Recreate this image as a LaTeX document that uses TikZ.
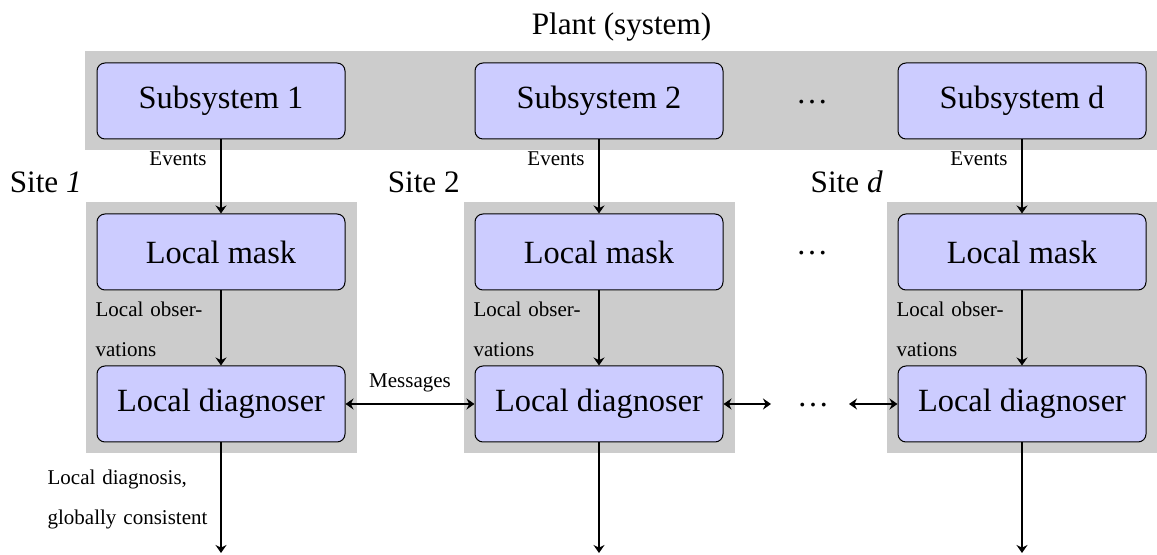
\documentclass[tikz,border=0pt]{standalone}
\usepackage{fontspec}
\setmainfont{Liberation Serif}
\usetikzlibrary{arrows.meta,backgrounds,fit}
\definecolor{panelgray}{RGB}{204,204,204}
\definecolor{boxblue}{RGB}{204,204,255}
\begin{document}
\begin{tikzpicture}[x=0.5pt,y=-0.5pt,
  tip/.tip={Stealth[length=4pt,width=5.5pt,inset=1.3pt]},
  unit/.style={draw=black, line width=0.5pt, fill=boxblue, rounded corners=4pt,
    minimum width=124pt, minimum height=38pt, inner sep=0pt,
    font=\fontsize{16.2}{19}\selectfont},
  panel/.style={fill=panelgray, inner xsep=5.5pt, inner ysep=5.5pt},
  flow/.style={line width=0.9pt, -tip},
  twoway/.style={line width=0.9pt, tip-tip},
  tag/.style={inner sep=0pt, font=\fontsize{10.5}{20}\selectfont},
  title/.style={inner sep=0pt, font=\fontsize{15.6}{19}\selectfont},
  gap/.style={inner sep=0pt, font=\fontsize{16}{19}\selectfont},
]
\useasboundingbox (0,0) rectangle (1157,555);

% subsystems of the plant
\node[unit] (s1) at (221,101) {Subsystem 1};
\node[unit] (s2) at (599,101) {Subsystem 2};
\node[unit] (sd) at (1022,101) {Subsystem d};
\node[gap, anchor=base] (dotsA) at (812,104) {\dots};

% local masks
\node[unit] (m1) at (221,252) {Local mask};
\node[unit] (m2) at (599,252) {Local mask};
\node[unit] (md) at (1022,252) {Local mask};
\node[gap, anchor=base] (dotsB) at (812,255) {\dots};

% local diagnosers
\node[unit] (d1) at (221,404) {Local diagnoser};
\node[unit] (d2) at (599,404) {Local diagnoser};
\node[unit] (dd) at (1022,404) {Local diagnoser};
\node[gap, anchor=base] (dotsC) at (813,407) {\dots};

% grey panels behind the plant and the sites
\begin{scope}[on background layer]
  \node[panel, fit=(s1)(sd), inner xsep=5.75pt] (plant) {};
  \node[panel, fit=(m1)(d1)] (site1) {};
  \node[panel, fit=(m2)(d2)] (site2) {};
  \node[panel, fit=(md)(dd)] (sited) {};
\end{scope}

% panel titles
\node[title, anchor=base] (ptitle) at ([shift={(0,-17)}]plant.north) {Plant (system)};
\node[title, anchor=base east] (t1) at ([shift={(-3,-10)}]site1.north west) {Site \textit{1}};
\node[title, anchor=base east] (t2) at ([shift={(-3,-10)}]site2.north west) {Site 2};
\node[title, anchor=base east] (td) at ([shift={(-3,-10)}]sited.north west) {Site \textit{d}};

% outgoing diagnosis ends
\coordinate (o1) at (221,553);
\coordinate (o2) at (599,553);
\coordinate (od) at (1022,553);
\coordinate (ra) at (771,404);
\coordinate (rb) at (849,404);

% vertical flows
\foreach \c in {1,2,d} {
  \draw[flow] (s\c) -- (m\c);
  \draw[flow] (m\c) -- (d\c);
  \draw[flow] (d\c) -- (o\c);
  \node[tag, anchor=base east] at ([shift={(-14,26)}]s\c.south) {Events};
  \node[tag, anchor=base east, text width=55.5pt, align=left]
    at ([shift={(-14,26)}]m\c.south) {\makebox[55.5pt][s]{Local obser-}\\vations};
}
\node[tag, anchor=base east, text width=82.5pt, align=left]
  at ([shift={(-8,42)}]d1.south)
  {\makebox[72.5pt][s]{Local diagnosis,}\\\makebox[82.5pt][s]{globally consistent}};

% messages between diagnosers
\draw[twoway] (d1) -- node[tag, anchor=base, yshift=8pt] {Messages} (d2);
\draw[twoway] (d2.east) -- (ra);
\draw[twoway] (rb) -- (dd.west);
\end{tikzpicture}
\end{document}
